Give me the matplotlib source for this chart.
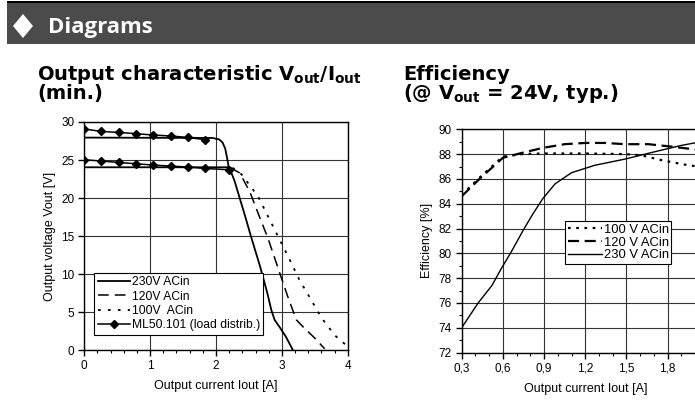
"""
datasheet diagrams: output characteristic Vout/Iout and efficiency curves
"""

import matplotlib
matplotlib.use("Agg")
import matplotlib.pyplot as plt
from matplotlib.patches import Rectangle, Polygon
from matplotlib.ticker import MultipleLocator, FixedLocator, FixedFormatter

# ---- output characteristic (left) ----
vi_230_top_x = [0, 1.95, 2.05, 2.1, 2.14, 2.17, 2.19, 2.21]
vi_230_top_y = [27.95, 27.9, 27.7, 27.3, 26.5, 25.2, 24.2, 23.7]
vi_230_x = [0, 2.2, 2.28, 2.36, 2.45, 2.53, 2.67, 2.78, 2.84, 2.89, 2.97, 3.06, 3.17]
vi_230_y = [24.05, 24.05, 22.3, 20.0, 17.4, 15.0, 11.0, 7.5, 5.3, 4.0, 3.0, 1.8, 0]
vi_120_x = [2.22, 2.36, 2.51, 2.64, 2.79, 2.97, 3.1, 3.22, 3.32, 3.5, 3.65]
vi_120_y = [24.0, 23.3, 20.9, 18.0, 14.7, 10.1, 6.8, 4.0, 3.1, 1.6, 0.2]
vi_100_x = [2.25, 2.39, 2.64, 2.79, 2.94, 3.12, 3.27, 3.42, 3.6, 3.8, 4.0]
vi_100_y = [24.0, 23.1, 20.2, 17.6, 15.0, 11.9, 9.2, 7.0, 4.3, 2.0, 0.5]
ml_x_top = [0, 0.26, 0.52, 0.79, 1.05, 1.31, 1.58, 1.84]
ml_y_top = [29.08, 28.76, 28.63, 28.46, 28.29, 28.16, 27.97, 27.67]
ml_x_low = [0, 0.26, 0.52, 0.79, 1.05, 1.31, 1.58, 1.84, 2.2]
ml_y_low = [25.04, 24.87, 24.68, 24.51, 24.34, 24.21, 24.08, 23.89, 23.72]

# ---- efficiency (right) ----
eff_230_x = [0.3, 0.42, 0.52, 0.59, 0.66, 0.75, 0.82, 0.89, 0.98, 1.1, 1.27, 1.49, 1.71, 1.9, 2.02]
eff_230_y = [74.0, 76.0, 77.4, 78.8, 80.1, 81.9, 83.2, 84.4, 85.6, 86.5, 87.1, 87.6, 88.2, 88.7, 88.95]
eff_120_x = [0.3, 0.43, 0.49, 0.6, 0.74, 0.89, 1.05, 1.2, 1.34, 1.49, 1.66, 1.83, 1.98, 2.02]
eff_120_y = [84.6, 86.0, 86.6, 87.7, 88.1, 88.5, 88.8, 88.9, 88.9, 88.8, 88.8, 88.6, 88.4, 88.35]
eff_100_x = [0.3, 0.43, 0.6, 0.74, 0.89, 1.2, 1.49, 1.61, 1.76, 1.95, 2.02]
eff_100_y = [84.7, 86.1, 87.8, 88.0, 88.05, 88.05, 88.0, 87.9, 87.5, 87.1, 87.0]
# 2,1 lies past the right edge of the page, so it is left out
eff_xticks = [0.3, 0.6, 0.9, 1.2, 1.5, 1.8]
eff_xticklabels = ["0,3", "0,6", "0,9", "1,2", "1,5", "1,8"]

W, H = 695, 403
plt.rcParams["font.family"] = ["Liberation Sans", "DejaVu Sans"]
plt.rcParams["mathtext.fontset"] = "custom"
plt.rcParams["mathtext.rm"] = "DejaVu Sans:bold"
plt.rcParams["mathtext.it"] = "DejaVu Sans:bold"

fig = plt.figure(figsize=(W / 100, H / 100), dpi=100)


def fx(px):
    return px / W


def fy(py):
    return (H - py) / H


# header band
fig.add_artist(Rectangle((fx(7), fy(44)), 1 - fx(7), fy(3) - fy(44),
                         transform=fig.transFigure, color="#4b4b4b", lw=0))
fig.add_artist(Rectangle((fx(7), fy(3)), 1 - fx(7), fy(1) - fy(3),
                         transform=fig.transFigure, color="black", lw=0))
fig.add_artist(Polygon([(fx(23), fy(14)), (fx(33), fy(26)), (fx(23), fy(38)), (fx(13), fy(26))],
                       transform=fig.transFigure, color="white", lw=0))
fig.text(fx(48), fy(33), "Diagrams", color="white", fontsize=16, fontweight="bold",
         family="Open Sans", va="baseline")

title_kw = dict(fontsize=14, fontweight="bold", family="DejaVu Sans", va="baseline")
fig.text(fx(37), fy(79.5), r"Output characteristic V$_\mathrm{out}$/I$_\mathrm{out}$", **title_kw)
fig.text(fx(37), fy(99), "(min.)", **title_kw)
fig.text(fx(403), fy(79.5), "Efficiency", **title_kw)
fig.text(fx(403), fy(99), r"(@ V$_\mathrm{out}$ = 24V, typ.)", **title_kw)

grid_kw = dict(color="#333333", lw=0.8)

# ---- left chart ----
ax1 = fig.add_axes([fx(84.3), fy(350.3), fx(347.7) - fx(84.3), fy(122) - fy(350.3)])
ax1.plot(vi_230_top_x, vi_230_top_y, color="black", lw=1.3)
ax1.plot(vi_230_x, vi_230_y, color="black", lw=1.3, label="230V ACin")
ax1.plot(vi_120_x, vi_120_y, color="black", lw=1.1, dashes=(7, 4), label="120V ACin")
ax1.plot(vi_100_x, vi_100_y, color="black", lw=1.3, dashes=(1.5, 4), label="100V  ACin")
ax1.plot(ml_x_top, ml_y_top, color="black", lw=1.1, marker="D", ms=4.5,
         label="ML50.101 (load distrib.)")
ax1.plot(ml_x_low, ml_y_low, color="black", lw=1.1, marker="D", ms=4.5)
ax1.set_xlim(0, 4)
ax1.set_ylim(0, 30)
ax1.xaxis.set_major_locator(MultipleLocator(1))
ax1.xaxis.set_minor_locator(MultipleLocator(0.2))
ax1.yaxis.set_major_locator(MultipleLocator(5))
ax1.grid(True, which="major", **grid_kw)
ax1.set_xlabel("Output current Iout [A]", fontsize=9, labelpad=6)
ax1.set_ylabel("Output voltage Vout [V]", fontsize=9, labelpad=4)
leg1 = ax1.legend(loc="lower left", bbox_to_anchor=(0.037, 0.067), fontsize=8.7,
                  handlelength=2.7, handletextpad=0.1, borderpad=0.3, labelspacing=0.2,
                  fancybox=False, framealpha=1, edgecolor="black", borderaxespad=0)
leg1.get_frame().set_linewidth(0.8)

# ---- right chart ----
ax2 = fig.add_axes([fx(461.7), fy(352.5), 1.8 * 137.3 / W, fy(129.3) - fy(352.5)])
ax2.plot(eff_100_x, eff_100_y, color="black", lw=1.6, dashes=(1.2, 2.5), label="100 V ACin")
ax2.plot(eff_120_x, eff_120_y, color="black", lw=1.6, dashes=(5, 2.5), label="120 V ACin")
ax2.plot(eff_230_x, eff_230_y, color="black", lw=1.0, label="230 V ACin")
ax2.set_xlim(0.3, 2.1)
ax2.set_ylim(72, 90)
ax2.xaxis.set_major_locator(FixedLocator(eff_xticks + [2.1]))
ax2.xaxis.set_major_formatter(FixedFormatter(eff_xticklabels + [""]))
ax2.xaxis.set_minor_locator(MultipleLocator(0.1))
ax2.yaxis.set_major_locator(MultipleLocator(2))
ax2.yaxis.set_minor_locator(MultipleLocator(1))
ax2.grid(True, which="major", **grid_kw)
ax2.set_xlabel("Output current Iout [A]", fontsize=9, labelpad=6)
ax2.set_ylabel("Efficiency [%]", fontsize=9, labelpad=4)
leg2 = ax2.legend(loc="lower left", bbox_to_anchor=(0.418, 0.3965), fontsize=9.4,
                  handlelength=2.6, handletextpad=0.15, borderpad=0.2, labelspacing=0.05,
                  fancybox=False, framealpha=1, edgecolor="black", borderaxespad=0)
leg2.get_frame().set_linewidth(0.8)

for ax in (ax1, ax2):
    for s in ax.spines.values():
        s.set_linewidth(1.0)
    ax.tick_params(which="major", direction="out", length=4, width=1, labelsize=8.5, pad=3)
    ax.tick_params(which="minor", direction="out", length=2.5, width=0.8)

fig.savefig("out.png", dpi=100)
